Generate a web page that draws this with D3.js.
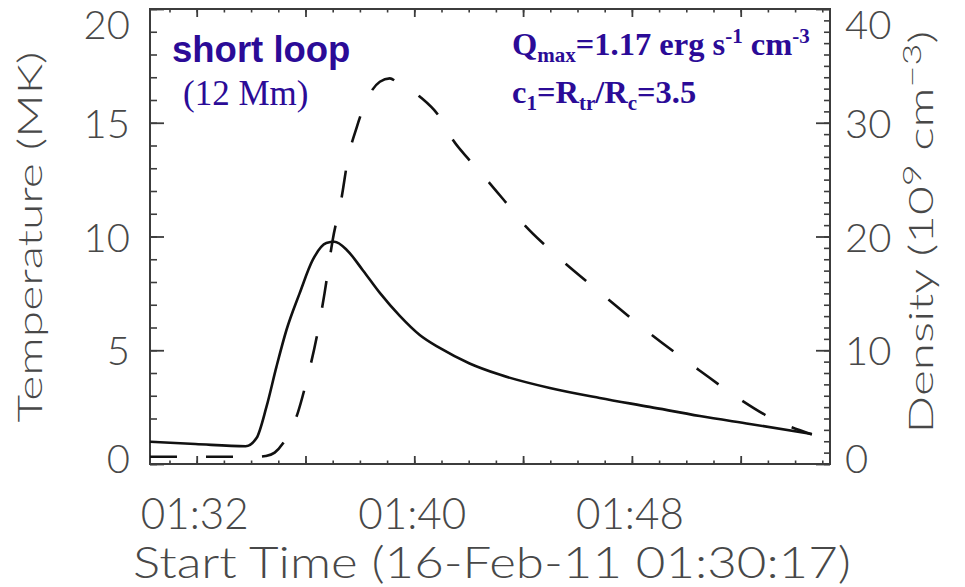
<!DOCTYPE html>
<html>
<head>
<meta charset="utf-8">
<script src="https://cdn.jsdelivr.net/npm/d3@7"></script>
<style>
  html, body { margin: 0; padding: 0; background: #fff; }
  svg { display: block; }
</style>
</head>
<body>
<svg id="chart" width="965" height="587"></svg>
<script>
// ---------------- data ----------------
const startTime = "2011-02-16T01:30:17Z";
const spanSeconds = 1500;

// Temperature (MK), solid line — seconds after start time
const tempSeconds = [0, 100, 211, 235, 257, 279, 301, 330, 359, 389, 407, 434, 469, 507, 551, 595, 639, 705, 771, 882, 992, 1102, 1213, 1323, 1460];
const tempMK      = [0.98, 0.88, 0.78, 1.14, 2.52, 4.28, 5.89, 7.5, 8.97, 9.71, 9.77, 9.41, 8.53, 7.52, 6.51, 5.67, 5.10, 4.42, 3.93, 3.34, 2.90, 2.51, 2.11, 1.76, 1.32];

// Density (1e9 cm^-3), dashed line — seconds after start time
const densSeconds = [0, 240, 255, 275, 293, 326, 346, 368, 385, 403, 423, 436, 456, 478, 507, 529, 544, 595, 639, 668, 705, 749, 787, 831, 875, 992, 1102, 1213, 1301, 1367, 1460];
const densValue   = [0.64, 0.64, 0.7, 1.0, 1.8, 4.5, 7.4, 11.2, 15, 19.7, 23.5, 26.7, 29.6, 32, 33.6, 33.9, 33.6, 32.3, 30.5, 28.5, 26.7, 24.7, 22.9, 20.8, 19.1, 15.1, 11.5, 8.2, 5.7, 4.1, 2.6];

const tempTicks = [0, 5, 10, 15, 20];
const densTicks = [0, 10, 20, 30, 40];
const timeLabelEvery = 8;   // minutes between labelled ticks
const xTitle = "Start Time (16-Feb-11 01:30:17)";
const yLeftTitle = "Temperature (MK)";

// ---------------- layout ----------------
const L = 150, R = 830, T = 9, B = 464;
const svg = d3.select("#chart");
const axisColor = "#3c3c3c";
const labelColor = "#484848";
const noteColor = "#2b0b97";

const t0 = new Date(startTime);
const x = d3.scaleUtc().domain([t0, new Date(+t0 + spanSeconds * 1000)]).range([L, R]);
const yT = d3.scaleLinear().domain([0, 20]).range([B, T]);
const yD = d3.scaleLinear().domain([0, 40]).range([B, T]);

const toDate = s => new Date(+t0 + s * 1000);

// ---------------- axes (ticks) ----------------
function styleAxis(g, w) {
  g.select(".domain").remove();
  g.selectAll(".tick line").attr("stroke", axisColor).attr("stroke-width", w);
  g.selectAll(".tick text").remove();
}
const minorT = d3.range(0, 21, 1);
const minorD = d3.range(0, 41, 1);

svg.append("g").attr("transform", `translate(${L},0)`)
  .call(d3.axisRight(yT).tickValues(minorT).tickSize(7).tickFormat(""))
  .call(g => styleAxis(g, 1.6));
svg.append("g").attr("transform", `translate(${L},0)`)
  .call(d3.axisRight(yT).tickValues(tempTicks).tickSize(14).tickFormat(""))
  .call(g => styleAxis(g, 1.8));

svg.append("g").attr("transform", `translate(${R},0)`)
  .call(d3.axisLeft(yD).tickValues(minorD).tickSize(6).tickFormat(""))
  .call(g => styleAxis(g, 1.6));
svg.append("g").attr("transform", `translate(${R},0)`)
  .call(d3.axisLeft(yD).tickValues(densTicks).tickSize(14).tickFormat(""))
  .call(g => styleAxis(g, 1.8));

const minorX = d3.utcMinute.every(1);
const majorX = d3.utcMinute.every(4);
svg.append("g").attr("transform", `translate(0,${B})`)
  .call(d3.axisTop(x).ticks(minorX).tickSize(3.5).tickFormat(""))
  .call(g => styleAxis(g, 1.6));
svg.append("g").attr("transform", `translate(0,${B})`)
  .call(d3.axisTop(x).ticks(majorX).tickSize(8).tickFormat(""))
  .call(g => styleAxis(g, 1.8));
svg.append("g").attr("transform", `translate(0,${T})`)
  .call(d3.axisBottom(x).ticks(minorX).tickSize(3.5).tickFormat(""))
  .call(g => styleAxis(g, 1.6));
svg.append("g").attr("transform", `translate(0,${T})`)
  .call(d3.axisBottom(x).ticks(majorX).tickSize(8).tickFormat(""))
  .call(g => styleAxis(g, 1.8));

svg.append("rect").attr("x", L).attr("y", T).attr("width", R - L).attr("height", B - T)
  .attr("fill", "none").attr("stroke", axisColor).attr("stroke-width", 2);

// ---------------- tick labels ----------------
const numFont = "Lato, 'Liberation Sans', Arial, sans-serif";
const numWeight = 300;
const clampY = v => Math.min(Math.max(v, 24), 458);
svg.append("g").selectAll("text").data(tempTicks).join("text")
  .attr("x", 130).attr("y", d => clampY(yT(d)))
  .attr("text-anchor", "end").attr("dominant-baseline", "central")
  .attr("font-family", numFont).attr("font-weight", numWeight).attr("font-size", 40).attr("fill", labelColor)
  .text(d => d);
svg.append("g").selectAll("text").data(densTicks).join("text")
  .attr("x", 845).attr("y", d => clampY(yD(d)))
  .attr("text-anchor", "start").attr("dominant-baseline", "central")
  .attr("font-family", numFont).attr("font-weight", numWeight).attr("font-size", 40).attr("fill", labelColor)
  .text(d => d);

const timeFmt = d3.utcFormat("%H:%M");
const labelTimes = x.ticks(d3.utcMinute.every(timeLabelEvery));
const tl = svg.append("g").selectAll("text").data(labelTimes).join("text")
  .attr("text-anchor", "middle")
  .attr("font-family", numFont).attr("font-weight", numWeight).attr("font-size", 43).attr("fill", labelColor)
  .text(d => timeFmt(d));
tl.each(function (d) {
  const s = 108 / this.getComputedTextLength();
  d3.select(this).attr("transform", `translate(${x(d) - 2},529) scale(${s},1)`);
});

// ---------------- axis titles ----------------
const xt = svg.append("text")
  .attr("font-family", numFont).attr("font-weight", numWeight).attr("font-size", 44).attr("fill", labelColor)
  .attr("text-anchor", "middle").text(xTitle);
const sx = 718 / xt.node().getComputedTextLength();
xt.attr("transform", `translate(492,578) scale(${sx},1)`);

const ylt = svg.append("text")
  .attr("font-family", numFont).attr("font-weight", numWeight).attr("font-size", 34).attr("fill", labelColor)
  .attr("text-anchor", "middle").text(yLeftTitle);
const sy = 371 / ylt.node().getComputedTextLength();
ylt.attr("transform", `translate(42,237) rotate(-90) scale(${sy},1)`);

const yrt = svg.append("text")
  .attr("font-family", numFont).attr("font-weight", numWeight).attr("font-size", 34).attr("fill", labelColor)
  .attr("text-anchor", "middle");
yrt.append("tspan").text("Density (10");
yrt.append("tspan").attr("font-size", 26).attr("dy", -12).text("9");
yrt.append("tspan").attr("dy", 12).text(" cm");
yrt.append("tspan").attr("font-size", 26).attr("dy", -12).text("\u22123");
yrt.append("tspan").attr("dy", 12).text(")");
const sr = 403 / yrt.node().getComputedTextLength();
yrt.attr("transform", `translate(933,232) rotate(-90) scale(${sr},1)`);

// ---------------- curves ----------------
const tempData = tempSeconds.map((s, i) => ({ t: toDate(s), v: tempMK[i] }));
const densData = densSeconds.map((s, i) => ({ t: toDate(s), v: densValue[i] }));

const lineT = d3.line().x(d => x(d.t)).y(d => yT(d.v)).curve(d3.curveMonotoneX);
const lineD = d3.line().x(d => x(d.t)).y(d => yD(d.v)).curve(d3.curveMonotoneX);

svg.append("path").datum(tempData).attr("d", lineT)
  .attr("fill", "none").attr("stroke", "#111").attr("stroke-width", 2.6)
  .attr("stroke-linejoin", "round");
svg.append("path").datum(densData).attr("d", lineD)
  .attr("fill", "none").attr("stroke", "#111").attr("stroke-width", 2.6)
  .attr("stroke-dasharray", "27,29");

// ---------------- annotations ----------------
svg.append("text").attr("x", 172).attr("y", 62)
  .attr("font-family", "'Liberation Sans', Arial, sans-serif").attr("font-weight", "bold")
  .attr("font-size", 36.5).attr("fill", noteColor).text("short loop");
svg.append("text").attr("x", 183).attr("y", 105)
  .attr("font-family", "'Liberation Serif', 'Times New Roman', serif")
  .attr("font-size", 35).attr("fill", noteColor).text("(12 Mm)");

const serif = "'Liberation Serif', 'Times New Roman', serif";
const q = svg.append("text").attr("x", 512).attr("y", 55)
  .attr("font-family", serif).attr("font-weight", "bold").attr("font-size", 32.5).attr("fill", noteColor);
q.append("tspan").text("Q");
q.append("tspan").attr("font-size", 21).attr("dy", 7).text("max");
q.append("tspan").attr("dy", -7).text("=1.17 erg s");
q.append("tspan").attr("font-size", 21).attr("dy", -12).text("-1");
q.append("tspan").attr("dy", 12).text(" cm");
q.append("tspan").attr("font-size", 21).attr("dy", -12).text("-3");

const c = svg.append("text").attr("x", 512).attr("y", 103)
  .attr("font-family", serif).attr("font-weight", "bold").attr("font-size", 32.5).attr("fill", noteColor);
c.append("tspan").text("c");
c.append("tspan").attr("font-size", 21).attr("dy", 7).text("1");
c.append("tspan").attr("dy", -7).text("=R");
c.append("tspan").attr("font-size", 21).attr("dy", 7).text("tr");
c.append("tspan").attr("dy", -7).text("/R");
c.append("tspan").attr("font-size", 21).attr("dy", 7).text("c");
c.append("tspan").attr("dy", -7).text("=3.5");
</script>
</body>
</html>
